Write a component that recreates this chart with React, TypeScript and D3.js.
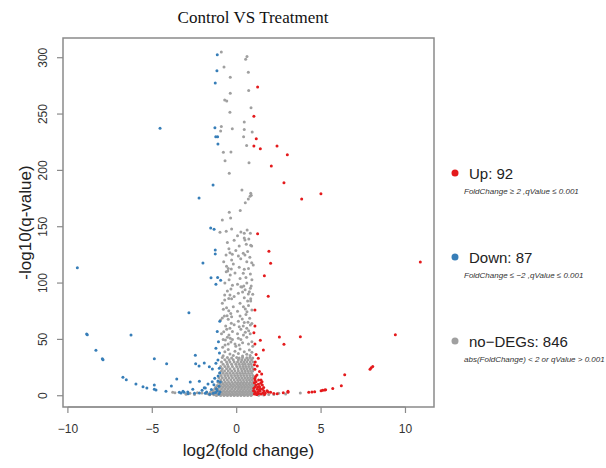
import React from "react";
import * as d3 from "d3";

type P = [number, number];

const titleText = "Control VS Treatment";
const xLabel = "log2(fold change)";
const yLabel = "-log10(q-value)";
const xTicks = [-10, -5, 0, 5, 10];
const yTicks = [0, 50, 100, 150, 200, 250, 300];

const upPoints: P[] = [
  [1.24, 274], [1.02, 248], [1.16, 228], [1.02, 221.6], [2.39, 221.6], [1.4, 219.2], [3.0, 213.9],
  [2.05, 203.9], [2.8, 189], [3.85, 174.6], [4.99, 179.3], [1.24, 143.8], [1.91, 128.2], [2.01, 117.5],
  [10.88, 118.7], [1.64, 106.5], [1.87, 88.2], [1.08, 76.1], [1.08, 61.9], [1.02, 55.9], [2.53, 52.2],
  [3.77, 52.4], [9.4, 54.2], [2.8, 45.6], [1.4, 49.2], [1.58, 40.6], [1.08, 45.9], [1.28, 33.2],
  [1.22, 26.4], [1.08, 23.4], [1.48, 19.3], [1.2, 18.4], [1.08, 14], [1.44, 14], [7.9, 23.4],
  [7.97, 24.8], [8.06, 26], [6.4, 18.6], [6.2, 8.9], [5.69, 6.5], [5.0, 4.4], [5.09, 4.8], [5.21, 5.1],
  [5.27, 5.3], [4.62, 3.5], [4.46, 3.3], [4.27, 3.0], [3.04, 3], [2.76, 2.7], [3.04, 3.9],
  [1.08, 15.4], [1.3, 13.9], [1.42, 11], [1.14, 9.5], [1.52, 9.5], [1.02, 6.6], [1.22, 5.7], [1.34, 5.1],
  [1.52, 5.7], [1.08, 3.6], [1.24, 3.3], [1.38, 3.9], [1.62, 4.2], [1.8, 4.4], [1.87, 3.3], [2.01, 3],
  [1.05, 1.5], [1.12, 2.2], [1.18, 1.2], [1.3, 2.0], [1.45, 1.6], [1.55, 2.4], [1.1, 8], [1.25, 7.5],
  [1.35, 8.2], [1.05, 11.5], [1.15, 12.3], [1.6, 7.2], [1.7, 2.5], [2.2, 2.0], [2.4, 1.8], [1.28, 10.2],
  [1.0, 4.5], [1.4, 6.5], [1.12, 17], [1.05, 27.5], [1.15, 36.5], [1.1, 30], [1.35, 21.5], [1.5, 12.5],
  [1.2, 1.0], [1.65, 1.2],
];

const downPoints: P[] = [
  [-1.15, 302.7], [-1.17, 288.5], [-1.27, 277.5], [-4.54, 237.3], [-1.29, 237.9], [-1.24, 229.9],
  [-1.13, 229.9], [-1.11, 223.4], [-1.4, 187], [-2.23, 175.5], [-1.54, 148.8], [-1.34, 147.7],
  [-1.27, 129.3], [-1.27, 125.8], [-2.0, 117.8], [-9.44, 113.6], [-1.52, 104.7], [-1.13, 105],
  [-0.95, 102.4], [-1.23, 98.9], [-2.83, 73.7], [-8.89, 54.8], [-8.85, 54.1], [-6.26, 53.9],
  [-8.34, 40.3], [-7.96, 32.8], [-7.92, 32], [-4.88, 32.8], [-4.15, 28.4], [-1.23, 42.1], [-2.45, 35.9],
  [-2.43, 28.4], [-2.23, 26.4], [-1.92, 29], [-1.62, 25.7], [-1.44, 23.7], [-1.23, 28.8], [-1.11, 31.7],
  [-1.03, 24.3], [-6.74, 16.3], [-6.54, 14.2], [-5.97, 10.4], [-5.55, 8], [-5.32, 6.8], [-4.88, 9.5],
  [-4.88, 5.7], [-4.78, 5.1], [-4.19, 3.9], [-3.87, 8.6], [-3.55, 14.8], [-2.75, 12.2], [-2.21, 12.8],
  [-1.92, 7.1], [-1.11, 13], [-0.97, 12.2], [-3.4, 3], [-3.3, 2.4], [-3.18, 3.9], [-3.12, 3], [-2.9, 3.3],
  [-2.88, 1.8], [-2.21, 2.4], [-1.86, 6.8], [-1.86, 2.1], [-1.39, 2.1], [-1.78, 3.3], [-0.99, 3.3],
  [-1.05, 1.5], [-1.15, 4.5], [-1.25, 2.8], [-1.5, 5.5], [-1.6, 1.4], [-1.05, 8.5], [-1.2, 6.2],
  [-1.35, 9.8], [-1.7, 10.5], [-2.05, 4.8], [-2.5, 2.2], [-2.6, 5.8], [-1.1, 17.5], [-1.0, 20.5],
  [-1.3, 15.5], [-1.45, 12.5], [-1.02, 38], [-1.08, 48], [-1.15, 57], [-1.0, 66],
];

const grayScatter: P[] = [
  [-0.91, 305], [0.53, 298.6], [0.61, 301], [-0.75, 291.7], [0.69, 287], [-0.38, 282.6], [0.71, 271],
  [-0.38, 268.4], [-0.71, 262.4], [-0.59, 261.6], [0.85, 255.6], [-0.4, 251.5], [0.45, 243], [-0.91, 239],
  [-0.95, 235], [-0.26, 237], [0.45, 236.4], [0.92, 234], [0.41, 229.9], [0.59, 222.2], [-0.79, 216],
  [-0.34, 216.3], [-0.69, 208.6], [0.73, 206.8], [-0.44, 197.4], [0.31, 182.6], [0.83, 179.6], [0.86, 178],
  [0.79, 177], [0.69, 174.6], [0.51, 171.3], [0.21, 164.5], [-0.44, 162.8], [-0.36, 157.7], [-0.85, 155.9],
  [-0.3, 148], [-0.99, 145], [0.25, 145.3], [0.45, 144.1], [0.81, 144.1], [0.45, 140], [0.49, 138.2],
  [0.57, 134.4], [0.83, 133.5], [0.89, 132.9], [-0.46, 130.5], [0.39, 126.4], [0.49, 124.9], [-0.63, 124.9],
  [-0.26, 125.5], [-0.77, 118.9], [-0.3, 120.4], [0.24, 121.6], [0.89, 118], [0.98, 116], [-0.32, 112.4],
  [-0.53, 110.7], [-0.38, 107.1], [0.45, 112.2], [0.39, 108.6], [0.81, 108], [-0.5, 113], [-0.62, 110],
  [-0.34, 94.7], [-0.4, 89.4], [-0.71, 89.4], [-0.47, 86.4], [-0.3, 86.1], [-0.71, 84.9], [0.25, 96.7],
  [0.31, 96.5], [0.42, 97.4], [0.86, 97.4], [0.81, 95.3], [0.75, 92.3], [0.69, 90.3], [0.83, 86.1],
  [0.65, 84], [0.83, 84], [0.35, 92], [-0.79, 76.7], [-0.47, 75.4], [-0.57, 71], [-0.73, 70.7], [-0.3, 70.1],
  [0.51, 77], [0.61, 74.6], [0.2, 70.7], [0.33, 68.1], [0.77, 68.7], [0.67, 65.2], [0.15, 61.2], [0.39, 61.9],
  [0.81, 62.8], [0.71, 57.7], [0.51, 56.3], [-0.77, 56.8], [-0.59, 58.9], [-0.46, 53.9], [-0.38, 51],
  [-0.67, 49.5], [-0.34, 47.7], [-0.69, 45], [-0.83, 43], [-0.95, 67.2], [-0.5, 67.8], [-0.32, 64.3],
  [-0.4, 59.8], [0.05, 55], [0.25, 50], [0.6, 52], [0.9, 48], [-0.1, 46],
  [-0.62, 146], [0.05, 142], [0.62, 147], [-0.15, 138], [0.72, 139], [-0.55, 136], [0.15, 133], [-0.05, 129],
  [0.65, 128], [-0.4, 127], [0.1, 124], [0.78, 123], [-0.2, 117], [0.6, 119], [-0.6, 115], [0.15, 114],
  [0.7, 113], [-0.1, 109], [0.55, 105], [-0.45, 103], [0.2, 104], [0.9, 103], [-0.7, 100], [0.05, 99],
  [0.6, 100], [-0.25, 98], [0.5, 94], [-0.55, 93], [0.1, 91], [0.95, 90], [-0.15, 88], [0.45, 87],
  [-0.85, 82], [0.2, 82], [0.7, 80], [-0.2, 79], [0.4, 79], [-0.6, 78], [0.9, 76], [0.05, 75], [-0.35, 73],
  [0.55, 72], [-0.85, 69], [0.1, 66], [0.45, 65], [-0.15, 63], [0.9, 64], [-0.65, 62], [0.25, 59],
  [-0.25, 57], [0.6, 60], [-0.9, 55], [0.4, 54], [-0.55, 52], [0.1, 51], [0.8, 55], [-0.8, 50], [0.35, 47],
  [-0.25, 50], [0.7, 46], [-0.5, 46], [0.15, 45], [0.95, 44], [-0.05, 44],
  [-3.79, 3], [-3.66, 2.7], [-2.77, 2.1], [-2.33, 2.7], [-2.06, 2.4], [-1.78, 2.1], [-1.54, 2.4],
  [2.49, 2.1], [3.77, 2.4], [2.2, 1.2], [1.9, 1.0], [1.6, 0.6], [-2.5, 1.0], [-3.0, 1.4], [2.9, 1.5], [1.3, 0.4],
];

const grayDense: P[] = [
  [-0.5, 41], [0.2, 41.5], [0.75, 40.5],
  [-0.7, 39], [-0.1, 39.5], [0.45, 39], [0.9, 38.5],
  [-0.4, 37], [0.1, 37.5], [0.6, 36.8],
  [-0.8, 35.5], [-0.2, 35.8], [0.35, 35.2], [0.8, 35.6],
  [-0.85, 34], [-0.55, 34], [-0.3, 33.6], [0.0, 34], [0.15, 33.4], [0.35, 34], [0.6, 33.7], [0.78, 34], [0.95, 33.5],
  [-0.7, 32], [-0.45, 32], [-0.2, 32], [0.1, 32], [0.3, 32], [0.5, 32], [0.68, 32], [0.88, 32],
  [-0.9, 30], [-0.6, 30], [-0.4, 30], [-0.15, 30], [0.05, 30], [0.25, 30], [0.42, 30], [0.6, 30], [0.8, 30], [0.97, 30],
  [-0.8, 28], [-0.55, 28], [-0.3, 28], [-0.05, 28], [0.15, 28], [0.35, 28], [0.5, 28], [0.7, 28], [0.85, 28],
  [-0.95, 26], [-0.7, 26], [-0.5, 26], [-0.25, 26], [0.0, 26], [0.2, 26], [0.38, 26], [0.55, 26], [0.72, 26], [0.9, 26],
  [-0.85, 24], [-0.6, 24], [-0.4, 24], [-0.15, 24], [0.08, 24], [0.28, 24], [0.45, 24], [0.62, 24], [0.8, 24], [0.98, 24],
  [-0.9, 22], [-0.72, 22], [-0.5, 22], [-0.3, 22], [-0.1, 22], [0.1, 22], [0.3, 22], [0.48, 22], [0.65, 22], [0.82, 22], [0.95, 22],
  [-1.0, 20], [-0.8, 20], [-0.6, 20], [-0.4, 20], [-0.2, 20], [0.0, 20], [0.18, 20], [0.35, 20], [0.52, 20], [0.7, 20], [0.88, 20],
  [-0.92, 18], [-0.7, 18], [-0.52, 18], [-0.32, 18], [-0.12, 18], [0.06, 18], [0.24, 18], [0.42, 18], [0.6, 18], [0.78, 18], [0.95, 18],
  [-1.05, 16], [-0.85, 16], [-0.65, 16], [-0.45, 16], [-0.25, 16], [-0.05, 16], [0.12, 16], [0.3, 16], [0.48, 16], [0.65, 16], [0.82, 16], [0.98, 16],
  [-0.95, 14], [-0.75, 14], [-0.55, 14], [-0.35, 14], [-0.15, 14], [0.05, 14], [0.22, 14], [0.4, 14], [0.58, 14], [0.75, 14], [0.9, 14],
  [-1.1, 12], [-0.88, 12], [-0.68, 12], [-0.48, 12], [-0.28, 12], [-0.08, 12], [0.1, 12], [0.28, 12], [0.45, 12], [0.62, 12], [0.8, 12], [0.96, 12],
  [-1.0, 10.5], [-0.8, 10.5], [-0.6, 10.5], [-0.4, 10.5], [-0.2, 10.5], [0.0, 10.5], [0.18, 10.5], [0.36, 10.5], [0.54, 10.5], [0.72, 10.5], [0.9, 10.5], [1.05, 10.5],
  [-1.15, 9], [-0.92, 9], [-0.72, 9], [-0.52, 9], [-0.32, 9], [-0.12, 9], [0.08, 9], [0.26, 9], [0.44, 9], [0.62, 9], [0.8, 9], [0.98, 9],
  [-1.25, 7.5], [-1.02, 7.5], [-0.82, 7.5], [-0.62, 7.5], [-0.42, 7.5], [-0.22, 7.5], [-0.02, 7.5], [0.16, 7.5], [0.34, 7.5], [0.52, 7.5], [0.7, 7.5], [0.88, 7.5], [1.02, 7.5],
  [-1.3, 6], [-1.1, 6], [-0.9, 6], [-0.7, 6], [-0.5, 6], [-0.3, 6], [-0.1, 6], [0.1, 6], [0.28, 6], [0.46, 6], [0.64, 6], [0.82, 6], [0.98, 6],
  [-1.4, 4.5], [-1.18, 4.5], [-0.98, 4.5], [-0.78, 4.5], [-0.58, 4.5], [-0.38, 4.5], [-0.18, 4.5], [0.02, 4.5], [0.2, 4.5], [0.38, 4.5], [0.56, 4.5], [0.74, 4.5], [0.92, 4.5], [1.05, 4.5],
  [-1.55, 3], [-1.3, 3], [-1.08, 3], [-0.88, 3], [-0.68, 3], [-0.48, 3], [-0.28, 3], [-0.08, 3], [0.12, 3], [0.3, 3], [0.48, 3], [0.66, 3], [0.84, 3], [1.0, 3],
  [-1.7, 1.8], [-1.45, 1.8], [-1.22, 1.8], [-1.0, 1.8], [-0.8, 1.8], [-0.6, 1.8], [-0.4, 1.8], [-0.2, 1.8], [0.0, 1.8], [0.2, 1.8], [0.4, 1.8], [0.6, 1.8], [0.78, 1.8], [0.95, 1.8],
  [-1.6, 0.8], [-1.35, 0.8], [-1.12, 0.8], [-0.9, 0.8], [-0.7, 0.8], [-0.5, 0.8], [-0.3, 0.8], [-0.1, 0.8], [0.1, 0.8], [0.3, 0.8], [0.5, 0.8], [0.7, 0.8], [0.88, 0.8],
  [-1.2, 0.2], [-0.95, 0.2], [-0.75, 0.2], [-0.55, 0.2], [-0.35, 0.2], [-0.15, 0.2], [0.05, 0.2], [0.25, 0.2], [0.45, 0.2], [0.65, 0.2], [0.85, 0.2],
];

const legendItems = [
  { label: "Up: 92", note: "FoldChange \u2265 2 ,qValue \u2264 0.001", color: "#E41A1C" },
  { label: "Down: 87", note: "FoldChange \u2264 \u22122 ,qValue \u2264 0.001", color: "#377EB8" },
  { label: "no\u2212DEGs: 846", note: "abs(FoldChange) < 2  or qValue > 0.001", color: "#A0A0A0" },
];

const W = 606;
const H = 468;
const box = { left: 63, right: 434, top: 38, bottom: 407 };

export default function App() {
  const x = d3.scaleLinear().domain([-10.29, 11.69]).range([box.left, box.right]);
  const y = d3.scaleLinear().domain([-10, 317.5]).range([box.bottom, box.top]);
  const gray = [...grayScatter, ...grayDense];
  const axisColor = "#8a8a8a";
  const r = 1.5;
  const legendY = [173, 257, 341];
  return (
    <svg width={W} height={H} style={{ position: "absolute", left: 0, top: 0, background: "#fff" }}
      fontFamily="'Liberation Sans', Arial, sans-serif">
      <rect x={0} y={0} width={W} height={H} fill="#fff" />
      <text x={253} y={23} textAnchor="middle" fontFamily="'Liberation Serif', serif" fontSize={17} fill="#111">
        {titleText}
      </text>
      <g>
        {gray.map((d, i) => (
          <circle key={"g" + i} cx={x(d[0])} cy={y(d[1])} r={r} fill="#A0A0A0" />
        ))}
        {downPoints.map((d, i) => (
          <circle key={"d" + i} cx={x(d[0])} cy={y(d[1])} r={r} fill="#377EB8" />
        ))}
        {upPoints.map((d, i) => (
          <circle key={"u" + i} cx={x(d[0])} cy={y(d[1])} r={r} fill="#E41A1C" />
        ))}
      </g>
      <rect x={box.left} y={box.top} width={box.right - box.left} height={box.bottom - box.top}
        fill="none" stroke={axisColor} strokeWidth={1.5} />
      <g>
        <line x1={x(xTicks[0])} x2={x(xTicks[xTicks.length - 1])} y1={box.bottom} y2={box.bottom} stroke={axisColor} strokeWidth={1.2} />
        {xTicks.map((t) => (
          <g key={"xt" + t}>
            <line x1={x(t)} x2={x(t)} y1={box.bottom} y2={box.bottom + 6} stroke={axisColor} strokeWidth={1.2} />
            <text x={x(t)} y={433} textAnchor="middle" fontSize={12} fill="#333">
              {t < 0 ? "\u2212" + Math.abs(t) : String(t)}
            </text>
          </g>
        ))}
      </g>
      <g>
        {yTicks.map((t) => (
          <g key={"yt" + t}>
            <line x1={box.left - 6} x2={box.left} y1={y(t)} y2={y(t)} stroke={axisColor} strokeWidth={1.2} />
            <text transform={`translate(43,${y(t)}) rotate(-90)`} textAnchor="middle" dy="0.35em" fontSize={12} fill="#333">
              {String(t)}
            </text>
          </g>
        ))}
      </g>
      <text x={(box.left + box.right) / 2} y={456} textAnchor="middle" fontSize={17} fill="#222">{xLabel}</text>
      <text transform={`translate(25,${(box.top + box.bottom) / 2}) rotate(-90)`} textAnchor="middle" dy="0.35em" fontSize={17} fill="#222">
        {yLabel}
      </text>
      {legendItems.map((it, i) => (
        <g key={"lg" + i}>
          <circle cx={455} cy={legendY[i]} r={3.5} fill={it.color} />
          <text x={469} y={legendY[i] + 5.5} fontSize={15} fill="#222">{it.label}</text>
          <text x={464} y={legendY[i] + 21} fontSize={8} fontStyle="italic" fill="#333">{it.note}</text>
        </g>
      ))}
    </svg>
  );
}
